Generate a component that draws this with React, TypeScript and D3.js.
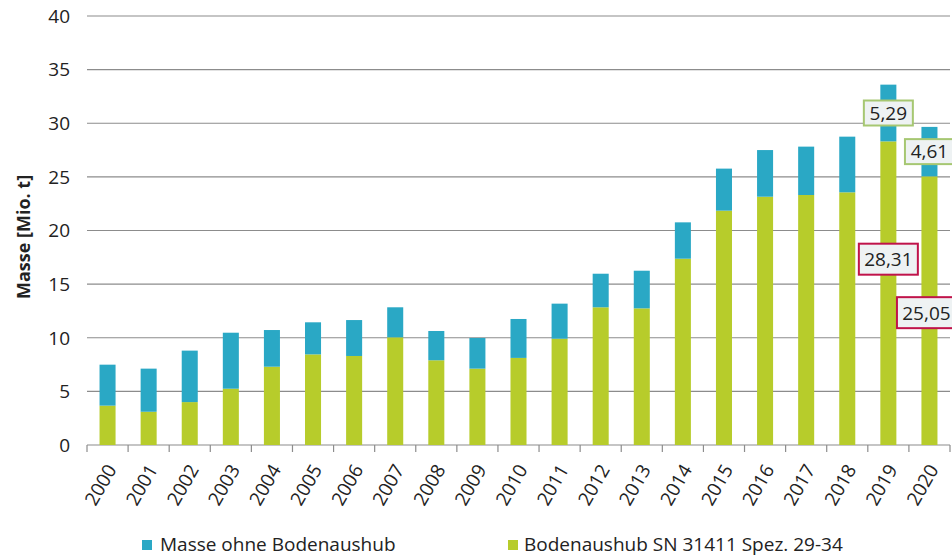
import React from "react";
import * as d3 from "d3";

const years = ["2000","2001","2002","2003","2004","2005","2006","2007","2008","2009","2010","2011","2012","2013","2014","2015","2016","2017","2018","2019","2020"];
const boden = [3.67,3.1,4.0,5.25,7.3,8.45,8.3,10.04,7.9,7.12,8.12,9.91,12.84,12.74,17.37,21.85,23.15,23.31,23.56,28.31,25.05];
const ohne = [3.82,4.02,4.8,5.22,3.42,2.99,3.35,2.8,2.73,2.86,3.63,3.27,3.13,3.51,3.39,3.92,4.35,4.51,5.19,5.29,4.61];
const yTicks = [0,5,10,15,20,25,30,35,40];
const seriesNames = ["Masse ohne Bodenaushub","Bodenaushub SN 31411 Spez. 29-34"];
const labelledYears = ["2019","2020"];

const W = 952, H = 558;
const left = 87, right = 950, top = 16, bottom = 445;
const BLUE = "#2aa8c5";
const GREEN = "#b7cc2b";
const GRID = "#8c8c8c";
const FONT = "'Open Sans', sans-serif";

export default function App() {
  const x = d3.scaleBand<string>().domain(years).range([left, right]).paddingInner(0.61).paddingOuter(0.305);
  const xb = d3.scaleBand<string>().domain(years).range([left, right]);
  const y = d3.scaleLinear().domain([0, 40]).range([bottom, top]);
  const stack = d3.stack<number>().keys(["b", "o"]).value((i, k) => (k === "b" ? boden[i] : ohne[i]));
  const series = stack(d3.range(years.length));
  const colors = [GREEN, BLUE];

  const labelOffsetGreen = [-34, 2];
  const labelShiftX = [0, -3];
  return (
    <svg width={W} height={H} style={{ position: "absolute", left: 0, top: 0, background: "#fff" }} fontFamily={FONT}>
      {yTicks.map((t) => (
        <g key={t}>
          <line x1={left} x2={right} y1={y(t)} y2={y(t)} stroke={GRID} strokeWidth={1.2} />
          <text x={70} y={y(t)} dy="0.36em" textAnchor="end" fontSize={19} fill="#222">{t}</text>
        </g>
      ))}
      {years.map((yr) => (
        <line key={"t" + yr} x1={xb(yr)!} x2={xb(yr)!} y1={bottom} y2={bottom + 7} stroke={GRID} strokeWidth={1.2} />
      ))}
      <line x1={right} x2={right} y1={bottom} y2={bottom + 7} stroke={GRID} strokeWidth={1.2} />
      {series.map((s, si) => (
        <g key={si} fill={colors[si]}>
          {s.map((d, i) => (
            <rect key={i} x={x(years[i])!} width={x.bandwidth()} y={y(d[1])} height={y(d[0]) - y(d[1])} />
          ))}
        </g>
      ))}
      {years.map((yr) => {
        const cx = xb(yr)! + xb.bandwidth() / 2;
        return (
          <text key={"xl" + yr} transform={`translate(${cx + 4},${466}) rotate(-60)`} textAnchor="end" dy="0.35em" fontSize={19} fill="#222">{yr}</text>
        );
      })}
      <text transform={`translate(${30},${237}) rotate(-90)`} textAnchor="middle" fontSize={18} fontWeight="bold" fill="#222">Masse [Mio. t]</text>
      {labelledYears.map((yr, li) => {
        const i = years.indexOf(yr);
        const cx = xb(yr)! + xb.bandwidth() / 2;
        const cxB = cx + labelShiftX[li];
        const cyO = y(boden[i] + ohne[i] / 2);
        const cyB = y(boden[i] / 2) + labelOffsetGreen[li];
        const fmt = (v: number) => v.toFixed(2).replace(".", ",");
        return (
          <g key={"lab" + yr}>
            <rect x={cx - 24.5} y={cyO - 12.5} width={49} height={25} fill="#eef2f3" stroke="#a6c772" strokeWidth={2} />
            <text x={cx} y={cyO} dy="0.36em" textAnchor="middle" fontSize={19} fill="#222">{fmt(ohne[i])}</text>
            <rect x={cxB - 29.5} y={cyB - 15.5} width={59} height={31} fill="#eef2f3" stroke="#c0134a" strokeWidth={2} />
            <text x={cxB} y={cyB} dy="0.36em" textAnchor="middle" fontSize={19} fill="#222">{fmt(boden[i])}</text>
          </g>
        );
      })}
      <g>
        <rect x={142} y={540} width={10} height={10} fill={BLUE} />
        <text x={160} y={551} fontSize={19} fill="#222">{seriesNames[0]}</text>
        <rect x={508} y={540} width={10} height={10} fill={GREEN} />
        <text x={524} y={551} fontSize={19} fill="#222">{seriesNames[1]}</text>
      </g>
    </svg>
  );
}
